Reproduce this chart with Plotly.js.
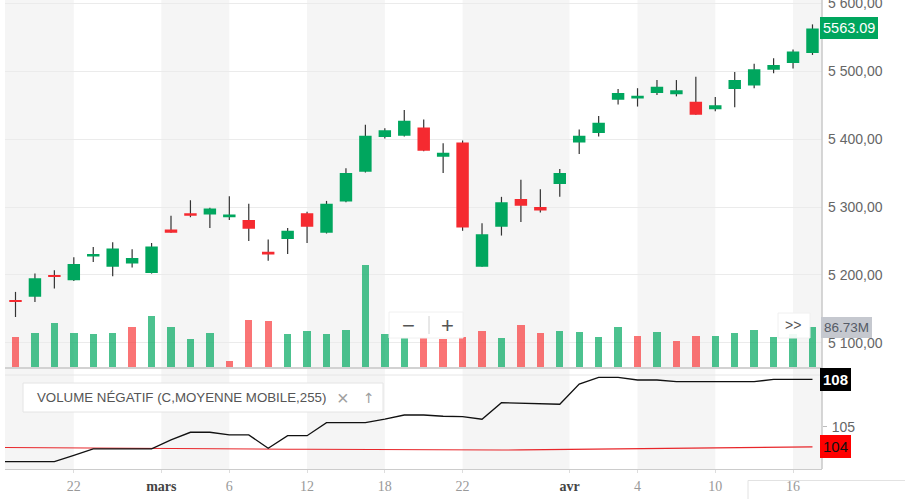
<!DOCTYPE html>
<html><head><meta charset="utf-8">
<script src="https://cdn.plot.ly/plotly-3.0.1.min.js"></script>
<style>html,body{margin:0;padding:0;background:#fff;overflow:hidden}#chart{width:905px;height:499px}</style>
</head><body><div id="chart"></div>
<script>
// ---- data ----
const openP  = [5163,5168,5200,5192,5227,5212,5217,5203,5267,5291,5289,5285,5281,5234,5253,5291,5262,5308,5352,5403,5405,5417,5374,5395,5212,5271,5312,5300,5334,5395,5409,5458,5460,5468,5466,5455,5444,5474,5479,5502,5512,5527];
const highP  = [5175,5202,5207,5226,5241,5248,5238,5247,5287,5310,5299,5316,5305,5252,5269,5293,5309,5357,5421,5416,5443,5429,5394,5398,5276,5315,5340,5326,5356,5414,5434,5474,5475,5487,5487,5492,5462,5499,5511,5519,5532,5569];
const lowP   = [5138,5160,5180,5191,5219,5198,5211,5202,5262,5285,5269,5281,5250,5221,5231,5247,5261,5307,5351,5401,5404,5382,5350,5265,5212,5258,5278,5292,5315,5378,5404,5451,5448,5465,5463,5436,5441,5447,5475,5497,5504,5524];
const closeP = [5160,5195,5197,5216,5231,5239,5225,5242,5262,5287,5298,5289,5268,5230,5265,5271,5305,5350,5405,5413,5427,5383,5380,5270,5260,5307,5302,5295,5350,5405,5424,5468,5464,5477,5472,5436,5450,5487,5503,5509,5529,5563.09];
const prevClose = 5170;
// volume, millions
const volume = [64.8,73.6,95.5,73.6,71.4,73.6,86.7,110.8,86.7,60.4,73.6,12.3,102.1,99.9,71.4,78.0,71.4,80.2,222.5,71.4,62.6,62.6,62.0,64.8,78.0,62.6,91.1,73.6,78.0,75.8,64.8,86.7,67.0,75.8,56.1,67.0,67.0,73.6,80.2,64.8,72.3,86.73];
// negative volume index and its 255 moving average (first value = session before the visible window)
const nvi = [102.75,102.75,102.75,102.75,103.15,103.57,103.57,103.57,103.57,104.15,104.64,104.64,104.47,104.47,103.61,104.42,104.42,105.26,105.26,105.26,105.49,105.75,105.75,105.67,105.64,105.48,106.54,106.50,106.44,106.44,107.74,108.17,108.17,108.00,108.00,107.89,107.89,107.89,107.89,107.89,108.04,108.04,108.04];
const nviMA = [103.66,103.65,103.65,103.64,103.63,103.63,103.62,103.61,103.61,103.60,103.59,103.58,103.58,103.57,103.56,103.55,103.55,103.54,103.53,103.52,103.52,103.51,103.50,103.49,103.49,103.49,103.50,103.51,103.52,103.53,103.54,103.55,103.56,103.57,103.58,103.59,103.60,103.62,103.63,103.64,103.66,103.68,103.70];
const tickPos  = [3, 7.5, 11, 15, 19, 23, 28.5, 32, 36, 40];
const tickText = ['22','mars','6','12','18','22','avr','4','10','16'];
const monthTicks = ['mars','avr'];
const priceTicks = [5100,5200,5300,5400,5500,5600];
const nviTicks = [105];
const legendText = 'VOLUME NÉGATIF (C,MOYENNE MOBILE,255)';

// ---- derived ----
const idx = closeP.map((_, i) => i);
const idxLine = [-1].concat(idx);
const UP = '#00a65e', DOWN = '#f52a30';
const volColors = closeP.map((c, i) => c >= (i ? closeP[i-1] : prevClose) ? 'rgba(0,168,96,0.70)' : 'rgba(248,50,52,0.68)');
const wickX = [], wickY = [];
idx.forEach(i => { wickX.push(i, i, null); wickY.push(lowP[i], highP[i], null); });

const xRange = [-0.54, 41.49];
const priceRange = [5064.4, 5604.9];
const W = 817, H = 469, L = 5;
const PX = p => (p - L) / W;
const PY = p => (H - p) / H;

const traces = [
  {type:'scatter', mode:'lines', x:wickX, y:wickY, xaxis:'x', yaxis:'y',
   line:{color:'#333333', width:1.2}, hoverinfo:'skip'},
  {type:'bar', x:idx, y:volume, xaxis:'x', yaxis:'y2', width:0.38,
   marker:{color:volColors, line:{width:0}}, hoverinfo:'skip'},
  {type:'candlestick', x:idx, open:openP, high:highP, low:lowP, close:closeP,
   xaxis:'x', yaxis:'y4', whiskerwidth:0,
   increasing:{line:{color:UP, width:0}, fillcolor:UP},
   decreasing:{line:{color:DOWN, width:0}, fillcolor:DOWN}, hoverinfo:'skip'},
  {type:'scatter', mode:'lines', x:idxLine, y:nviMA, xaxis:'x', yaxis:'y3',
   line:{color:'#e8262a', width:1.1}, hoverinfo:'skip'},
  {type:'scatter', mode:'lines', x:idxLine, y:nvi, xaxis:'x', yaxis:'y3',
   line:{color:'#111111', width:1.3}, hoverinfo:'skip'}
];

// alternating bands between ticks
const bounds = [xRange[0]].concat(tickPos, [xRange[1]]);
const shapes = [];
for (let k = 0; k < bounds.length - 1; k += 2) {
  shapes.push({type:'rect', xref:'x', yref:'paper', x0:bounds[k], x1:bounds[k+1], y0:0, y1:1,
    fillcolor:'#f5f5f5', line:{width:0}, layer:'below'});
}
shapes.push(
  {type:'line', xref:'paper', yref:'paper', x0:0, x1:1, y0:PY(368), y1:PY(368), line:{color:'#d2d2d2', width:2}, layer:'above'},
  {type:'line', xref:'paper', yref:'paper', x0:0, x1:1, y0:PY(375), y1:PY(375), line:{color:'#e6e6e6', width:1}, layer:'above'},
  {type:'line', xref:'paper', yref:'paper', x0:1, x1:1, y0:0, y1:1, line:{color:'#c8c8c8', width:1.5}, layer:'above'},
  // zoom control
  {type:'rect', xref:'paper', yref:'paper', x0:PX(389), x1:PX(463), y0:PY(338), y1:PY(312),
   fillcolor:'rgba(255,255,255,0.92)', line:{color:'#f0f0f0', width:1}, layer:'above'},
  {type:'line', xref:'paper', yref:'paper', x0:PX(429), x1:PX(429), y0:PY(334), y1:PY(316), line:{color:'#d0d0d0', width:1}, layer:'above'},
  {type:'rect', xref:'paper', yref:'paper', x0:PX(778), x1:PX(810), y0:PY(338), y1:PY(313),
   fillcolor:'rgba(255,255,255,0.92)', line:{color:'#f0f0f0', width:1}, layer:'above'},
  // legend box
  {type:'rect', xref:'paper', yref:'paper', x0:PX(23), x1:PX(383), y0:PY(412), y1:PY(383),
   fillcolor:'#ffffff', line:{color:'#e4e4e4', width:1}, layer:'above'},
  // corner lines bottom right
  {type:'line', xref:'paper', yref:'paper', x0:PX(748), x1:PX(905), y0:PY(480.5), y1:PY(480.5), line:{color:'#e2e2e2', width:1}},
  {type:'line', xref:'paper', yref:'paper', x0:PX(748), x1:PX(748), y0:PY(480.5), y1:PY(499), line:{color:'#e2e2e2', width:1}}
);

const lastVol = volume[volume.length-1];
const lastClose = closeP[closeP.length-1];
const lastNvi = nvi[nvi.length-1];
const lastMA = nviMA[nviMA.length-1];
const font = 'Liberation Sans, Arial, sans-serif';
const annotations = [
  {xref:'paper', yref:'y', x:1, y:lastClose, xanchor:'left', yanchor:'middle', xshift:-2, showarrow:false,
   text:lastClose.toFixed(2), bgcolor:UP, bordercolor:UP, borderwidth:1, borderpad:2,
   font:{family:font, size:14.5, color:'#ffffff'}},
  {xref:'paper', yref:'y2', x:1, y:lastVol, xanchor:'left', yanchor:'middle', xshift:-1, showarrow:false,
   text:lastVol.toFixed(2)+'M', bgcolor:'#c5c8cf', bordercolor:'#c5c8cf', borderwidth:1, borderpad:2,
   font:{family:font, size:13.5, color:'#555b66'}},
  {xref:'paper', yref:'y3', x:1, y:lastNvi, xanchor:'left', yanchor:'middle', xshift:-2, showarrow:false,
   text:'<b>'+Math.round(lastNvi)+'</b>', bgcolor:'#000000', bordercolor:'#000000', borderwidth:1, borderpad:2,
   font:{family:font, size:15, color:'#ffffff'}},
  {xref:'paper', yref:'y3', x:1, y:lastMA, xanchor:'left', yanchor:'middle', xshift:-2, showarrow:false,
   text:String(Math.round(lastMA)), bgcolor:'#ff0000', bordercolor:'#ff0000', borderwidth:1, borderpad:2,
   font:{family:font, size:15, color:'#111111'}},
  {xref:'paper', yref:'paper', x:PX(35), y:PY(397.5), xanchor:'left', yanchor:'middle', showarrow:false,
   text:legendText, font:{family:font, size:13.3, color:'#555555'}},
  {xref:'paper', yref:'paper', x:PX(343), y:PY(397.5), xanchor:'center', yanchor:'middle', showarrow:false,
   text:'×', font:{family:font, size:20, color:'#a0a0a0'}},
  {xref:'paper', yref:'paper', x:PX(369), y:PY(397.5), xanchor:'center', yanchor:'middle', showarrow:false,
   text:'↑', font:{family:'DejaVu Sans', size:14, color:'#a0a0a0'}},
  {xref:'paper', yref:'paper', x:PX(408), y:PY(325), xanchor:'center', yanchor:'middle', showarrow:false,
   text:'−', font:{family:font, size:22, color:'#555555'}},
  {xref:'paper', yref:'paper', x:PX(447), y:PY(325), xanchor:'center', yanchor:'middle', showarrow:false,
   text:'+', font:{family:font, size:22, color:'#555555'}},
  {xref:'paper', yref:'paper', x:PX(793), y:PY(325), xanchor:'center', yanchor:'middle', showarrow:false,
   text:'&gt;&gt;', font:{family:font, size:14, color:'#555555'}}
];

const tickLabels = tickText.map(t => monthTicks.includes(t)
  ? '<span style="color:#444"><b>' + t + '</b></span>' : t);

const layout = {
  width:905, height:499,
  margin:{l:L, r:905-L-W, t:0, b:499-H, pad:0},
  paper_bgcolor:'#ffffff', plot_bgcolor:'#ffffff',
  showlegend:false, hovermode:false, dragmode:false,
  separators:', ',
  boxgap:0.36, boxgroupgap:0,
  bargap:0,
  xaxis:{domain:[0,1], range:xRange, anchor:'y3', showgrid:false, zeroline:false,
    showline:true, linecolor:'#cccccc', linewidth:1,
    tickmode:'array', tickvals:tickPos, ticktext:tickLabels,
    ticks:'outside', ticklen:3, tickcolor:'#dddddd',
    tickfont:{family:'Liberation Serif, Times New Roman, serif', size:14, color:'#999999'},
    ticklabelstandoff:1, fixedrange:true, rangeslider:{visible:false}},
  yaxis:{domain:[PY(367),1], range:priceRange, side:'right', anchor:'x',
    tickmode:'array', tickvals:priceTicks, tickformat:',.2f', ticklabeloverflow:'allow',
    showgrid:true, gridcolor:'#ebebeb', gridwidth:1, zeroline:false, showline:false, ticks:'',
    tickfont:{family:font, size:14, color:'#666666'}, ticklabelstandoff:5, fixedrange:true},
  yaxis2:{overlaying:'y', anchor:'x', range:[0,804], visible:false, fixedrange:true},
  yaxis4:{overlaying:'y', anchor:'x', range:priceRange, visible:false, fixedrange:true},
  yaxis3:{domain:[0,PY(375)], range:[102.28,108.32], side:'right', anchor:'x',
    tickmode:'array', tickvals:nviTicks, showgrid:false, zeroline:false, showline:false,
    ticks:'outside', ticklen:4, tickcolor:'#bbbbbb',
    tickfont:{family:font, size:14, color:'#666666'}, ticklabelstandoff:2, fixedrange:true},
  shapes:shapes,
  annotations:annotations
};

Plotly.newPlot('chart', traces, layout, {staticPlot:true, displayModeBar:false});
</script>
</body></html>
